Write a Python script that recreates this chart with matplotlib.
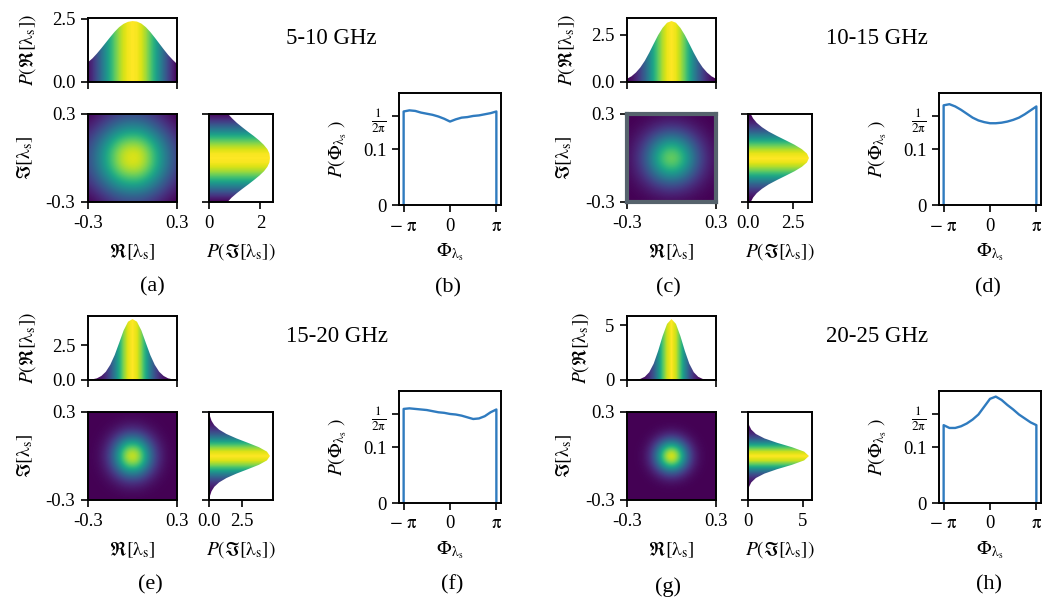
import numpy as np
import matplotlib.pyplot as plt

plt.rcParams['font.family'] = 'Liberation Serif'
plt.rcParams['mathtext.fontset'] = 'stix'

W, H = 1043, 602

# marginal densities, grid -0.3 .. 0.3 step 0.03
re_a = [0.78, 0.93, 1.12, 1.33, 1.55, 1.77, 1.98, 2.16, 2.29, 2.37, 2.40,
        2.38, 2.30, 2.16, 1.97, 1.75, 1.52, 1.29, 1.07, 0.88, 0.71]
im_a = [0.72, 0.88, 1.08, 1.30, 1.53, 1.75, 1.96, 2.14, 2.27, 2.35, 2.37,
        2.35, 2.27, 2.13, 1.95, 1.74, 1.51, 1.29, 1.08, 0.90, 0.74]
re_c = [0.17, 0.30, 0.50, 0.77, 1.12, 1.55, 2.02, 2.48, 2.86, 3.13, 3.22,
        3.13, 2.86, 2.48, 2.02, 1.55, 1.12, 0.77, 0.50, 0.30, 0.17]
im_c = [0.15, 0.28, 0.48, 0.77, 1.14, 1.60, 2.09, 2.57, 2.97, 3.25, 3.36,
        3.25, 2.97, 2.57, 2.09, 1.60, 1.14, 0.77, 0.48, 0.28, 0.15]
re_e = [0.02, 0.05, 0.12, 0.29, 0.59, 1.09, 1.79, 2.66, 3.55, 4.18, 4.37,
        4.18, 3.55, 2.66, 1.79, 1.09, 0.59, 0.29, 0.12, 0.05, 0.02]
im_e = [0.03, 0.08, 0.19, 0.40, 0.76, 1.32, 2.07, 2.93, 3.77, 4.37, 4.60,
        4.37, 3.77, 2.93, 2.07, 1.32, 0.76, 0.40, 0.19, 0.08, 0.03]
re_g = [0.00, 0.01, 0.03, 0.10, 0.29, 0.71, 1.49, 2.65, 4.00, 5.11, 5.55,
        5.11, 4.00, 2.65, 1.49, 0.71, 0.29, 0.10, 0.03, 0.01, 0.00]
im_g = [0.00, 0.01, 0.03, 0.10, 0.30, 0.72, 1.50, 2.66, 4.02, 5.13, 5.57,
        5.13, 4.02, 2.66, 1.50, 0.72, 0.30, 0.10, 0.03, 0.01, 0.00]

# phase densities, 17 points from -pi to pi
phase_b = [0.167, 0.169, 0.168, 0.165, 0.163, 0.161, 0.158, 0.154, 0.149,
           0.153, 0.156, 0.157, 0.159, 0.160, 0.162, 0.164, 0.167]
phase_d = [0.178, 0.180, 0.176, 0.170, 0.163, 0.156, 0.151, 0.148, 0.146,
           0.146, 0.147, 0.149, 0.152, 0.156, 0.162, 0.169, 0.176]
phase_f = [0.168, 0.169, 0.168, 0.167, 0.166, 0.164, 0.162, 0.161, 0.159,
           0.158, 0.156, 0.153, 0.150, 0.151, 0.155, 0.162, 0.167]
phase_h = [0.139, 0.134, 0.134, 0.137, 0.142, 0.149, 0.158, 0.172, 0.186,
           0.190, 0.184, 0.175, 0.167, 0.158, 0.151, 0.144, 0.139]

bands = ['5-10 GHz', '10-15 GHz', '15-20 GHz', '20-25 GHz']
re_ticks = [([0, 2.5], ['0.0', '2.5']), ([0, 2.5], ['0.0', '2.5']),
            ([0, 2.5], ['0.0', '2.5']), ([0, 5], ['0', '5'])]
im_ticks = [([0, 2], ['0', '2']), ([0, 2.5], ['0.0', '2.5']),
            ([0, 2.5], ['0.0', '2.5']), ([0, 5], ['0', '5'])]
heat_boost = [1.05, 1.3, 1.08, 1.03]

grid = np.linspace(-0.3, 0.3, 21)
phi = np.linspace(-np.pi, np.pi, 17)

TICK_FS = 13.5
LABEL_FS = 14

fig = plt.figure(figsize=(W / 100, H / 100), dpi=100)


def px_axes(x0, y0, x1, y1):
    return fig.add_axes([x0 / W, 1 - y1 / H, (x1 - x0) / W, (y1 - y0) / H])


def style(ax):
    for s in ax.spines.values():
        s.set_linewidth(1.4)
    ax.tick_params(direction='out', length=5, width=1.2, pad=4, labelsize=TICK_FS)


def gradient_fill(ax, dens, horizontal=True):
    dens = np.asarray(dens)
    top = dens.max() * 1.05
    half = (grid[1] - grid[0]) / 2
    kw = dict(cmap='viridis', vmin=dens.min(), vmax=dens.max(),
              aspect='auto', interpolation='bilinear', origin='lower')
    if horizontal:
        poly = ax.fill_between(grid, 0, dens, color='none', lw=0)
        im = ax.imshow(dens[None, :], extent=[grid[0] - half, grid[-1] + half, 0, top], **kw)
        ax.set_xlim(-0.3, 0.3)
        ax.set_ylim(0, top)
    else:
        poly = ax.fill_betweenx(grid, 0, dens, color='none', lw=0)
        im = ax.imshow(dens[:, None], extent=[0, top, grid[0] - half, grid[-1] + half], **kw)
        ax.set_ylim(-0.3, 0.3)
        ax.set_xlim(0, top)
    im.set_clip_path(poly.get_paths()[0], transform=ax.transData)


groups = [(re_a, im_a), (re_c, im_c), (re_e, im_e), (re_g, im_g)]
phases = [phase_b, phase_d, phase_f, phase_h]
offsets = [(0, 0), (539, 0), (0, 298), (539, 298)]
lab = r'\mathrm{\lambda}_\mathrm{s}'

for k, ((re, im), (dx, dy)) in enumerate(zip(groups, offsets)):
    re = np.asarray(re)
    im = np.asarray(im)

    ax_top = px_axes(88 + dx, 18 + dy, 177 + dx, 82 + dy)
    gradient_fill(ax_top, re, horizontal=True)
    ax_top.set_xticks([-0.3, 0.3])
    ax_top.set_xticklabels([])
    ax_top.set_yticks(re_ticks[k][0])
    ax_top.set_yticklabels(re_ticks[k][1])
    ax_top.set_ylabel(r'$P(\Re[%s])$' % lab, fontsize=LABEL_FS, labelpad=10)
    style(ax_top)

    ax_heat = px_axes(88 + dx, 114 + dy, 177 + dx, 202 + dy)
    dens2d = np.outer(im, re)
    half = (grid[1] - grid[0]) / 2
    ax_heat.imshow(dens2d, origin='lower', cmap='viridis',
                   vmin=dens2d.min(), vmax=dens2d.max() * heat_boost[k],
                   extent=[grid[0] - half, grid[-1] + half, grid[0] - half, grid[-1] + half],
                   aspect='auto', interpolation='bicubic')
    ax_heat.set_xlim(-0.3, 0.3)
    ax_heat.set_ylim(-0.3, 0.3)
    ax_heat.set_xticks([-0.3, 0.3])
    ax_heat.set_xticklabels(['-0.3', '0.3'])
    ax_heat.set_yticks([-0.3, 0.3])
    ax_heat.set_yticklabels(['-0.3', '0.3'])
    ax_heat.set_xlabel(r'$\Re[%s]$' % lab, fontsize=LABEL_FS, labelpad=7)
    ax_heat.set_ylabel(r'$\Im[%s]$' % lab, fontsize=LABEL_FS, labelpad=8)
    style(ax_heat)
    if k == 1:
        for s in ax_heat.spines.values():
            s.set_color('#56636d')
            s.set_linewidth(3)

    ax_im = px_axes(209 + dx, 114 + dy, 273 + dx, 202 + dy)
    gradient_fill(ax_im, im, horizontal=False)
    ax_im.set_yticks([-0.3, 0.3])
    ax_im.set_yticklabels([])
    ax_im.set_xticks(im_ticks[k][0])
    ax_im.set_xticklabels(im_ticks[k][1])
    ax_im.set_xlabel(r'$P(\Im[%s])$' % lab, fontsize=LABEL_FS, labelpad=7)
    style(ax_im)

    # phase panel
    pdx = 540 if dx else 0
    ax_ph = px_axes(399 + pdx, 93 + dy, 501 + pdx, 205 + dy)
    ax_ph.plot(np.r_[-np.pi, phi, np.pi], np.r_[0, phases[k], 0],
               color='#2f7bbf', lw=1.7)
    ax_ph.set_xlim(-np.pi - 0.314, np.pi + 0.314)
    ax_ph.set_ylim(0, 0.2)
    ax_ph.set_xticks([-np.pi, 0, np.pi])
    ax_ph.set_xticklabels([r'$-\ \mathrm{\pi}$', '0', r'$\mathrm{\pi}$'])
    ax_ph.set_yticks([0, 0.1, 1 / (2 * np.pi)])
    ax_ph.set_yticklabels(['0', '0.1', r'$\frac{1}{2\mathrm{\pi}}$'])
    ax_ph.set_xlabel(r'$\Phi_{%s}$' % lab, fontsize=LABEL_FS, labelpad=5)
    ax_ph.set_ylabel(r'$P(\Phi_{%s}\ )$' % lab, fontsize=LABEL_FS, labelpad=10)
    style(ax_ph)

    fig.text((286 + pdx) / W, 1 - (39 + dy) / H, bands[k],
             fontsize=16.5, ha='left', va='center')

letters = ['(a)', '(b)', '(c)', '(d)', '(e)', '(f)', '(g)', '(h)']
letter_pos = [(152, 287), (448, 288), (668, 288), (988, 288),
              (150, 585), (452, 585), (668, 587), (989, 585)]
for t, (x, y) in zip(letters, letter_pos):
    fig.text(x / W, 1 - y / H, t, fontsize=16, ha='center', va='center')

fig.savefig('out.png', dpi=100)
